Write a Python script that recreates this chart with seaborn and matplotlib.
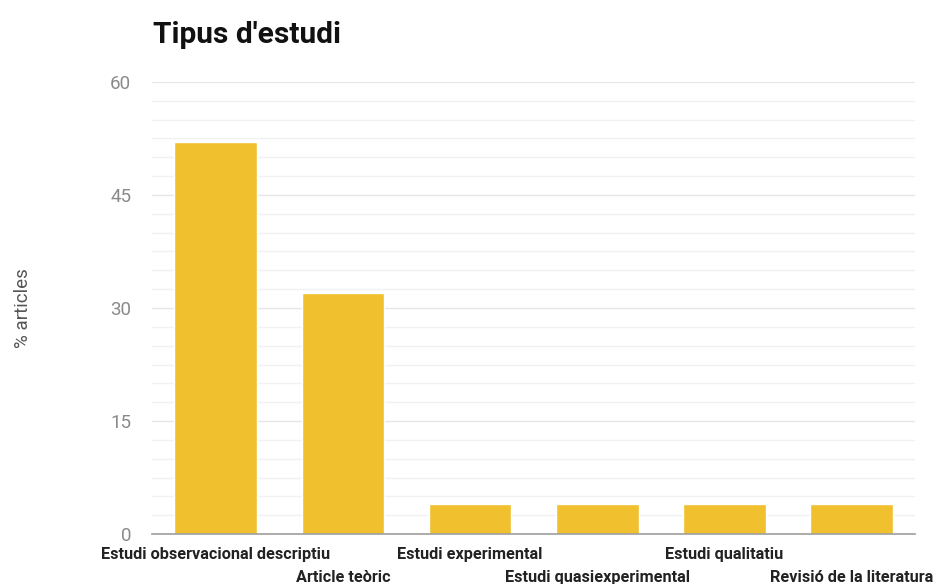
import matplotlib
matplotlib.use("Agg")
import matplotlib.pyplot as plt
from matplotlib.ticker import MultipleLocator
import seaborn as sns
import pandas as pd

categories = ["Estudi observacional descriptiu", "Article teòric", "Estudi experimental",
              "Estudi quasiexperimental", "Estudi qualitatiu", "Revisió de la literatura"]
values = [52, 32, 4, 4, 4, 4]
y_ticks = [0, 15, 30, 45, 60]

df = pd.DataFrame({"tipus": categories, "pct": values})

sns.set_theme(style="white")
plt.rcParams["font.family"] = ["Roboto", "DejaVu Sans"]

fig = plt.figure(figsize=(9.33, 5.84), dpi=100)
ax = fig.add_axes([0.163, 0.0856, 0.818, 0.774])

sns.barplot(data=df, x="tipus", y="pct", color="#F0C02E", saturation=1, width=0.65, ax=ax)

ax.set_ylim(0, 60)
ax.set_xlim(-0.5, len(categories) - 0.5)
ax.set_yticks(y_ticks)
ax.yaxis.set_minor_locator(MultipleLocator(2.5))
ax.grid(axis="y", which="major", color="#e6e6e6", linewidth=1)
ax.grid(axis="y", which="minor", color="#f1f1f1", linewidth=1)
ax.set_axisbelow(True)
ax.tick_params(axis="y", which="both", length=0, labelsize=13.5, labelcolor="#8a8a8a", pad=15)
ax.tick_params(axis="x", length=0, labelsize=11.7, labelcolor="#222222")

for s in ["top", "right", "left"]:
    ax.spines[s].set_visible(False)
ax.spines["bottom"].set_color("#9e9e9e")
ax.spines["bottom"].set_linewidth(1.2)

ax.set_xticks(range(len(categories)))
ax.set_xticklabels(categories, fontweight="bold")
for i, tick in enumerate(ax.xaxis.get_major_ticks()):
    tick.set_pad(9 if i % 2 == 0 else 26)

ax.set_xlabel("")
ax.set_ylabel("% articles", fontsize=13.5, color="#555555")
ax.yaxis.set_label_coords(-0.157, 0.5)

fig.text(0.164, 0.94, "Tipus d'estudi", fontsize=21.5, fontweight="bold", color="#111111",
         ha="left", va="center")

fig.savefig("out.png", dpi=100)
